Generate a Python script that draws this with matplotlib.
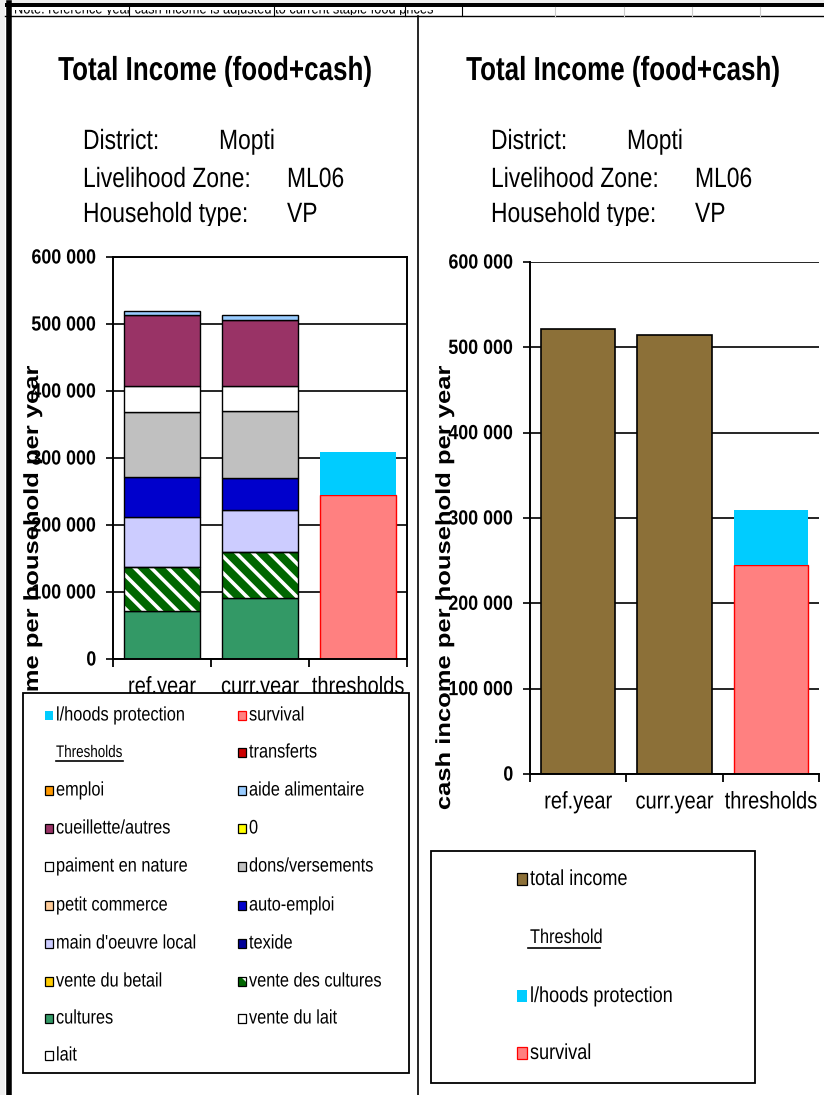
import matplotlib
matplotlib.use("Agg")
import matplotlib.pyplot as plt
from matplotlib import font_manager
from matplotlib.patches import Rectangle
from matplotlib.lines import Line2D
from matplotlib.patheffects import AbstractPathEffect
from matplotlib.transforms import Affine2D

# ---------------- data ----------------
bar_categories = ["ref.year", "curr.year", "thresholds"]

# income sources, stacked bottom -> top
sources = ["lait", "vente du lait", "cultures", "vente des cultures",
           "vente du betail", "texide", "main d'oeuvre local", "auto-emploi",
           "petit commerce", "dons/versements", "paiment en nature", "0",
           "cueillette/autres", "aide alimentaire", "emploi", "transferts"]
ref_year = [0, 0, 71000, 65600, 0, 0, 76000, 59600,
            0, 96000, 40000, 0, 105000, 6500, 0, 0]
curr_year = [0, 0, 91000, 68500, 0, 0, 63000, 47400,
             0, 100600, 37400, 0, 98700, 7500, 0, 0]
source_colors = ["#FFFFFF", "#FFFFFF", "#339966", "#006600",
                 "#FFCC00", "#000099", "#CCCCFF", "#0000CC",
                 "#FFCC99", "#C0C0C0", "#FFFFFF", "#FFFF00",
                 "#993366", "#99CCFF", "#FF9900", "#CC0000"]
source_hatch = [None, None, None, "\\\\", None, None, None, None,
                None, None, None, None, None, None, None, None]

threshold_names = ["survival", "l/hoods protection"]
threshold_values = [244500, 65000]
threshold_colors = ["#FF8080", "#00CCFF"]
threshold_edges = ["#FF0000", "none"]

total_income_name = "total income"
total_income = [522000, 514500]
total_income_color = "#8C7038"

yticks = [0, 100000, 200000, 300000, 400000, 500000, 600000]
ytick_labels = ["0", "100 000", "200 000", "300 000", "400 000", "500 000", "600 000"]

title_text = "Total Income (food+cash)"
info_keys = ["District:", "Livelihood Zone:", "Household type:"]
info_vals = ["Mopti", "ML06", "VP"]
ylabel_text = "cash income per household per year"
note_text = "Note: reference year cash income is adjusted to current staple food prices"

# ---------------- fonts ----------------
names = {f.name for f in font_manager.fontManager.ttflist}
NARROW = "Liberation Sans Narrow" if "Liberation Sans Narrow" in names else "Liberation Sans"
SC = 1.0 if NARROW == "Liberation Sans Narrow" else 0.84
plt.rcParams["font.family"] = [NARROW, "DejaVu Sans"]
plt.rcParams["hatch.linewidth"] = 2.6


class Stretch(AbstractPathEffect):
    """Scale glyphs in their own frame (condensed look of the original)."""

    def __init__(self, sx=1.0, sy=1.0):
        super().__init__()
        self._sx, self._sy = sx, sy

    def draw_path(self, renderer, gc, tpath, affine, rgbFace=None):
        renderer.draw_path(gc, tpath, Affine2D().scale(self._sx, self._sy) + affine, rgbFace)


W, H, DPI = 824, 1095, 100
fig = plt.figure(figsize=(W / DPI, H / DPI), dpi=DPI)
fig.patch.set_facecolor("white")


def px_axes(x0, y0, x1, y1, **kw):
    return fig.add_axes([x0 / W, 1 - y1 / H, (x1 - x0) / W, (y1 - y0) / H], **kw)


def overlay():
    a = px_axes(0, 0, W, H)
    a.set_xlim(0, W)
    a.set_ylim(H, 0)
    a.axis("off")
    a.patch.set_alpha(0)
    return a


# ---------------- background / frames ----------------
bg = overlay()
bg.add_patch(Rectangle((0, 0), 5, H, color="#EEEEEE", lw=0))
bg.add_patch(Rectangle((0, 0), W, 2.5, color="#EEEEEE", lw=0))
bg.add_patch(Rectangle((5, 2.5), W - 5, 4.5, color="black", lw=0))
bg.add_line(Line2D([5, W], [15.5, 15.5], color="black", lw=1.0))
for xs, c in [(129, "black"), (274, "black"), (405, "black"), (462, "black"),
              (555, "#CCCCCC"), (624, "#CCCCCC"), (692, "#CCCCCC"), (760, "#CCCCCC")]:
    bg.add_line(Line2D([xs, xs], [7, 15.5], color=c, lw=0.8))
bg.add_line(Line2D([9, 9], [2.5, H], color="black", lw=4.0))
bg.add_line(Line2D([418.5, 418.5], [15.5, H], color="black", lw=1.2))

# clipped note row at the very top (only the lower part of the letters shows)
note_ax = px_axes(14, 9.5, 500, 14.5)
note_ax.axis("off")
note_ax.text(0.0, 0.2, note_text, transform=note_ax.transAxes, fontsize=11 * SC,
             va="baseline", ha="left", clip_on=True, color="black",
             path_effects=[Stretch(1.0, 1.2)])


# ---------------- headers ----------------
def header(x0, x1, title_cx, key_x, val_xs):
    hx = px_axes(x0, 16, x1, 225.5)
    hx.set_xlim(x0, x1)
    hx.set_ylim(225.5, 16)
    hx.axis("off")
    hx.text(title_cx, 80, title_text, ha="center", va="baseline",
            fontsize=22.3 * SC, fontweight="bold", clip_on=True,
            path_effects=[Stretch(1.0, 1.28)])
    for k, v, y, vx in zip(info_keys, info_vals, [149, 187, 222], val_xs):
        hx.text(key_x, y, k, ha="left", va="baseline", fontsize=19.6 * SC,
                clip_on=True, path_effects=[Stretch(1.0, 1.22)])
        hx.text(vx, y, v, ha="left", va="baseline", fontsize=19.6 * SC,
                clip_on=True, path_effects=[Stretch(1.0, 1.22)])


header(12, 417, 215, 83, [219, 287, 287])
header(420, W, 623, 491, [627, 695, 695])

# ---------------- left chart ----------------
axL = px_axes(113, 257, 407, 659)
xL = [0, 1]
bottom = [0, 0]
for name, c, h, r, cu in zip(sources, source_colors, source_hatch, ref_year, curr_year):
    vals = [r, cu]
    if sum(vals) == 0:
        continue
    if h:
        axL.bar(xL, vals, width=0.77, bottom=bottom, color=c, edgecolor="white",
                hatch=h, linewidth=0, zorder=2)
        axL.bar(xL, vals, width=0.77, bottom=bottom, fill=False, edgecolor="black",
                linewidth=1.0, zorder=3)
    else:
        axL.bar(xL, vals, width=0.77, bottom=bottom, color=c, edgecolor="black",
                linewidth=1.0, zorder=2)
    bottom = [b + v for b, v in zip(bottom, vals)]

tb = 0
for name, v, c, e in zip(threshold_names, threshold_values, threshold_colors, threshold_edges):
    axL.bar([2], [v], width=0.77, bottom=[tb], color=c, edgecolor=e, linewidth=1.0, zorder=2)
    tb += v

# ---------------- right chart ----------------
axR = px_axes(530, 262, 819, 774)
axR.bar([0, 1], total_income, width=0.77, color=total_income_color,
        edgecolor="black", linewidth=1.2, zorder=2)
tb = 0
for name, v, c, e in zip(threshold_names, threshold_values, threshold_colors, threshold_edges):
    axR.bar([2], [v], width=0.77, bottom=[tb], color=c, edgecolor=e, linewidth=1.0, zorder=2)
    tb += v

for ax, box in [(axL, True), (axR, False)]:
    ax.set_xlim(-0.5, 2.5)
    ax.set_ylim(0, 600000)
    ax.set_yticks(yticks)
    ax.set_yticklabels(ytick_labels, fontsize=15.3 * SC, fontweight="bold")
    ax.yaxis.grid(True, color="black", lw=1.2, zorder=1)
    ax.set_axisbelow(True)
    ax.set_xticks([-0.5, 0.5, 1.5, 2.5])
    ax.set_xticklabels([])
    ax.set_xticks([0, 1, 2], minor=True)
    ax.set_xticklabels(bar_categories, minor=True, fontsize=17.2 * SC)
    ax.tick_params(axis="x", which="major", length=6, width=1.3, direction="out")
    ax.tick_params(axis="x", which="minor", length=0, pad=14)
    ax.tick_params(axis="y", length=5, width=1.2, pad=7)
    for lbl in ax.get_yticklabels():
        lbl.set_path_effects([Stretch(1.0, 1.15)])
    for lbl in ax.get_xticklabels(minor=True):
        lbl.set_path_effects([Stretch(1.0, 1.2)])
    ax.set_facecolor("none")
    for s in ax.spines.values():
        s.set_linewidth(1.4)
        s.set_color("black")
    if not box:
        ax.spines["right"].set_visible(False)
        ax.spines["top"].set_visible(False)

# rotated axis labels (long and thin like the original)
for lx in (31, 443):
    bg.text(lx, 588, ylabel_text, rotation=90, ha="center", va="center",
            fontsize=18.4, fontweight="bold", family="Liberation Sans",
            path_effects=[Stretch(1.0, 0.8)])

# ---------------- legends (drawn on top) ----------------
fg = overlay()


def marker(ax, x, y, fc, ec, hatch=None, w=8, h=8):
    if hatch:
        ax.add_patch(Rectangle((x, y - h / 2), w, h, facecolor=fc,
                               edgecolor="white", hatch=hatch, lw=0))
        ax.add_patch(Rectangle((x, y - h / 2), w, h, fill=False,
                               edgecolor=ec, lw=0.9))
    else:
        ax.add_patch(Rectangle((x, y - h / 2), w, h, facecolor=fc,
                               edgecolor=ec, lw=0.9 if ec != "none" else 0))


# left legend
fg.add_patch(Rectangle((23.5, 692.5), 385.5, 380.5, facecolor="white",
                       edgecolor="black", lw=1.3))
items = []
for n, c, e in zip(threshold_names[::-1], threshold_colors[::-1], threshold_edges[::-1]):
    items.append((n, c, e, None))
items.append(("Thresholds", None, None, None))
for n, c, h in zip(sources[::-1], source_colors[::-1], source_hatch[::-1]):
    items.append((n, c, "black", h))

row_y = [715, 752, 790, 828, 866, 905, 943, 981, 1018, 1055]
col_mx = [45, 238]
for k, (n, c, e, h) in enumerate(items):
    r, col = divmod(k, 2)
    y = row_y[r]
    mx = col_mx[col]
    if c is None:
        fg.text(mx + 11, y + 5, n, ha="left", va="baseline", fontsize=11.5 * SC,
                path_effects=[Stretch(1.0, 1.25)])
        fg.add_line(Line2D([mx + 11, mx + 78], [y + 9, y + 9], color="black", lw=1.2))
        continue
    marker(fg, mx, y, c, e, h, w=8, h=9)
    fg.text(mx + 11, y + 5.5, n, ha="left", va="baseline", fontsize=14 * SC,
            path_effects=[Stretch(1.0, 1.2)])

# right legend
fg.add_patch(Rectangle((431.5, 851), 324, 232, facecolor="white",
                       edgecolor="black", lw=1.3))
r_items = [(total_income_name, total_income_color, "black"),
           ("Threshold", None, None),
           (threshold_names[1], threshold_colors[1], "none"),
           (threshold_names[0], threshold_colors[0], threshold_edges[0])]
for (n, c, e), y in zip(r_items, [879, 937, 996, 1053]):
    if c is None:
        fg.text(530, y + 6, n, ha="left", va="baseline", fontsize=14 * SC,
                path_effects=[Stretch(1.0, 1.22)])
        fg.add_line(Line2D([528, 600], [y + 10.5, y + 10.5], color="black", lw=1.2))
        continue
    marker(fg, 517, y, c, e, None, w=10, h=12)
    fg.text(530, y + 6, n, ha="left", va="baseline", fontsize=15.5 * SC,
            path_effects=[Stretch(1.0, 1.2)])

fig.savefig("out.png", dpi=DPI)
